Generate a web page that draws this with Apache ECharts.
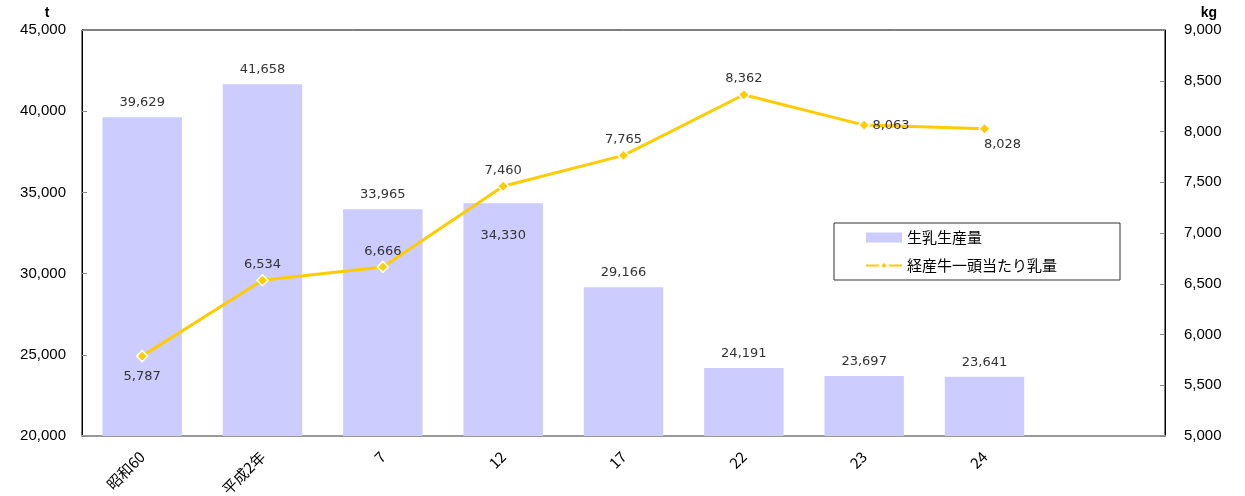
<!DOCTYPE html>
<html><head><meta charset="utf-8">
<script src="https://cdn.jsdelivr.net/npm/echarts@6/dist/echarts.min.js"></script>
<style>html,body{margin:0;padding:0;background:#fff}#c{width:1245px;height:496px}</style>
</head><body><div id="c"></div>
<script>
const categories = ['昭和60', '平成2年', '7', '12', '17', '22', '23', '24', ''];
const production = [39629, 41658, 33965, 34330, 29166, 24191, 23697, 23641, null];
const perCow = [5787, 6534, 6666, 7460, 7765, 8362, 8063, 8028, null];
const leftTicks = { min: 20000, max: 45000, interval: 5000 };
const rightTicks = { min: 5000, max: 9000, interval: 500 };

const fmt = v => v.toLocaleString('en-US');
const labelFont = { color: '#333', fontSize: 13, fontFamily: 'DejaVu Sans, sans-serif' };

const barData = production.map((v, i) => {
  if (v == null) return v;
  const d = { value: v };
  if (i === 3) d.label = { position: 'insideTop', distance: 26 };
  return d;
});
const lineData = perCow.map((v, i) => {
  if (v == null) return v;
  const d = { value: v };
  if (i === 0) d.label = { position: 'bottom', distance: 8 };
  if (i === 6) d.label = { position: 'right', distance: 2, offset: [0, 1] };
  if (i === 7) d.label = { position: 'bottom', distance: 3, offset: [18, 0] };
  return d;
});

const chart = echarts.init(document.getElementById('c'));
chart.setOption({
  animation: false,
  grid: { left: 82, right: 80, top: 30, bottom: 60, outerBoundsMode: 'none', containLabel: false, show: true, borderColor: '#000', borderWidth: 1, backgroundColor: 'transparent' },
  legend: {
    left: 834, top: 223, orient: 'vertical', itemGap: 13, padding: [7, 63, 7, 31],
    borderColor: '#333', borderWidth: 1, itemWidth: 36, itemHeight: 10,
    textStyle: { fontSize: 15, color: '#000', fontFamily: 'Noto Sans CJK JP, sans-serif' },
    data: [
      { name: '生乳生産量', icon: 'rect' },
      { name: '経産牛一頭当たり乳量' }
    ]
  },
  xAxis: {
    type: 'category', data: categories, boundaryGap: true,
    axisLine: { lineStyle: { color: '#999', width: 2 } },
    axisTick: { inside: true, length: 5, lineStyle: { color: '#000' } },
    axisLabel: { rotate: 45, interval: 0, fontSize: 15, color: '#000', margin: 18, fontFamily: 'Noto Sans CJK JP, sans-serif' }
  },
  yAxis: [
    {
      type: 'value', min: leftTicks.min, max: leftTicks.max, interval: leftTicks.interval,
      name: 't', nameGap: 10, nameTextStyle: { fontSize: 14, fontWeight: 'bold', color: '#000', align: 'center', padding: [0, 0, 0, -70] },
      axisLine: { show: true, lineStyle: { color: '#000' } },
      axisTick: { show: true, inside: true, length: 5, lineStyle: { color: '#888' } },
      splitLine: { show: false },
      axisLabel: { fontSize: 15, color: '#000', margin: 16, formatter: fmt, fontFamily: 'Liberation Sans, Arial, sans-serif' }
    },
    {
      type: 'value', min: rightTicks.min, max: rightTicks.max, interval: rightTicks.interval,
      name: 'kg', nameGap: 10, nameTextStyle: { fontSize: 14, fontWeight: 'bold', color: '#000', align: 'center', padding: [0, -88, 0, 0] },
      axisLine: { show: true, lineStyle: { color: '#000' } },
      axisTick: { show: true, inside: true, length: 5, lineStyle: { color: '#888' } },
      splitLine: { show: false },
      axisLabel: { fontSize: 15, color: '#000', margin: 19, formatter: fmt, fontFamily: 'Liberation Sans, Arial, sans-serif' }
    }
  ],
  series: [
    {
      name: '生乳生産量', type: 'bar', yAxisIndex: 0, barWidth: '66%', data: barData,
      itemStyle: { color: '#ccccff' },
      label: Object.assign({ show: true, position: 'top', distance: 8, formatter: p => fmt(p.value) }, labelFont)
    },
    {
      name: '経産牛一頭当たり乳量', type: 'line', yAxisIndex: 1, data: lineData,
      symbol: 'diamond', symbolSize: 11, z: 5,
      lineStyle: { color: '#ffcc00', width: 3 },
      itemStyle: { color: '#ffcc00', borderColor: '#fff', borderWidth: 1.5 },
      label: Object.assign({ show: true, position: 'top', distance: 3, formatter: p => fmt(p.value) }, labelFont)
    }
  ]
});
</script></body></html>
